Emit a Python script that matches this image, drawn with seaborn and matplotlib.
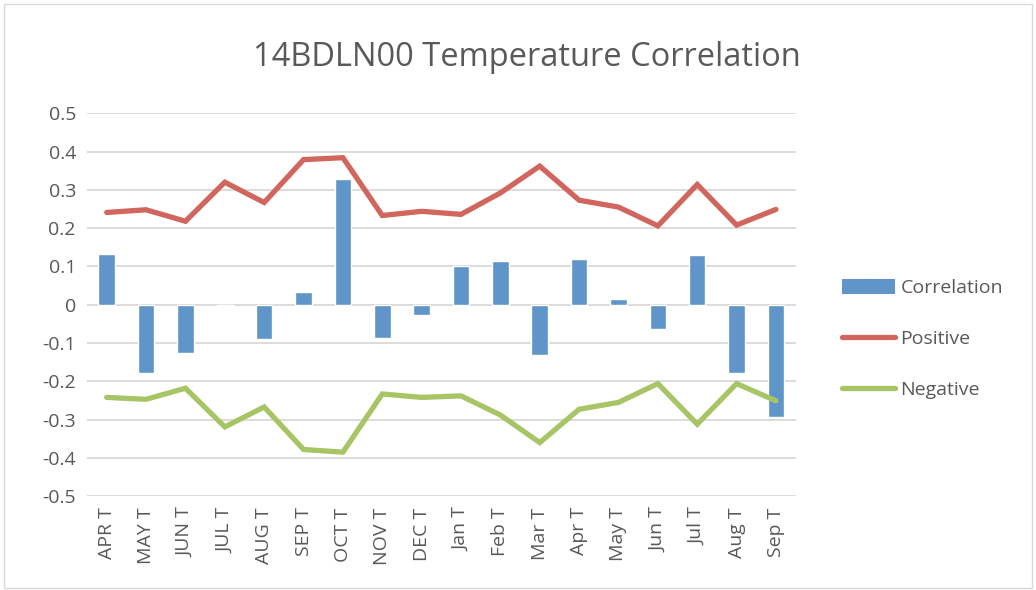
import numpy as np
import pandas as pd
import seaborn as sns
import matplotlib.pyplot as plt
from matplotlib.patches import Patch, Rectangle
from matplotlib.lines import Line2D

months = ["APR T", "MAY T", "JUN T", "JUL T", "AUG T", "SEP T", "OCT T", "NOV T", "DEC T",
          "Jan T", "Feb T", "Mar T", "Apr T", "May T", "Jun T", "Jul T", "Aug T", "Sep T"]
correlation = [0.133, -0.178, -0.127, -0.004, -0.089, 0.034, 0.329, -0.087, -0.026,
               0.101, 0.113, -0.131, 0.119, 0.015, -0.064, 0.130, -0.179, -0.294]
positive = [0.241, 0.248, 0.218, 0.320, 0.267, 0.379, 0.384, 0.233, 0.244,
            0.236, 0.292, 0.362, 0.273, 0.255, 0.206, 0.314, 0.208, 0.249]
negative = [-0.242, -0.247, -0.218, -0.319, -0.267, -0.378, -0.385, -0.233, -0.242,
            -0.238, -0.288, -0.360, -0.273, -0.255, -0.206, -0.312, -0.206, -0.251]
yticks = [-0.5, -0.4, -0.3, -0.2, -0.1, 0, 0.1, 0.2, 0.3, 0.4, 0.5]

blue, red, green = "#5F95C9", "#D0665D", "#A8C566"
text_col = "#595959"

sns.set_theme(style="white")
plt.rcParams['font.family'] = ['Open Sans', 'DejaVu Sans']

df = pd.DataFrame({"month": months, "idx": np.arange(len(months)),
                   "Correlation": correlation, "Positive": positive, "Negative": negative})

fig = plt.figure(figsize=(10.36, 5.90), dpi=100)
ax = fig.add_axes([0.084, 0.159, 0.684, 0.649])

sns.barplot(data=df, x="month", y="Correlation", color=blue, width=0.42,
            saturation=1, ax=ax, zorder=2)
sns.lineplot(data=df, x="idx", y="Positive", color=red, linewidth=3.8, ax=ax, zorder=3)
sns.lineplot(data=df, x="idx", y="Negative", color=green, linewidth=3.8, ax=ax, zorder=3)
for l in ax.lines:
    l.set_solid_capstyle("round")
    l.set_solid_joinstyle("miter")

ax.set_xlim(-0.5, len(months) - 0.5)
ax.set_ylim(-0.5, 0.5)
ax.set_yticks(yticks)
ax.set_yticklabels([f"{v:g}" for v in yticks])
ax.set_xticks(np.arange(len(months)))
ax.set_xticklabels(months, rotation=90)
ax.tick_params(axis="both", colors=text_col, labelsize=14, length=0, pad=8)
ax.yaxis.grid(True, color="#D9D9D9", linewidth=1.3, zorder=0)
ax.set_axisbelow(True)
ax.set_xlabel("")
ax.set_ylabel("")
sns.despine(ax=ax, left=True, bottom=True)

fig.suptitle("14BDLN00 Temperature Correlation", x=0.509, y=0.903, fontsize=23.5,
             color=text_col, va="center")

handles = [Patch(facecolor=blue, edgecolor="none"),
           Line2D([], [], color=red, linewidth=3.8, solid_capstyle="round"),
           Line2D([], [], color=green, linewidth=3.8, solid_capstyle="round")]
leg = fig.legend(handles, ["Correlation", "Positive", "Negative"], loc="center left",
                 bbox_to_anchor=(0.813, 0.425), frameon=False, fontsize=14,
                 borderpad=0, borderaxespad=0,
                 handlelength=2.7, handleheight=0.8, handletextpad=0.3, labelspacing=1.68)
for t in leg.get_texts():
    t.set_color(text_col)

fig.patches.append(Rectangle((0.004, 0.004), 0.992, 0.99, transform=fig.transFigure,
                             fill=False, edgecolor="#D9D9D9", linewidth=1))

fig.savefig("out.png", dpi=100)
